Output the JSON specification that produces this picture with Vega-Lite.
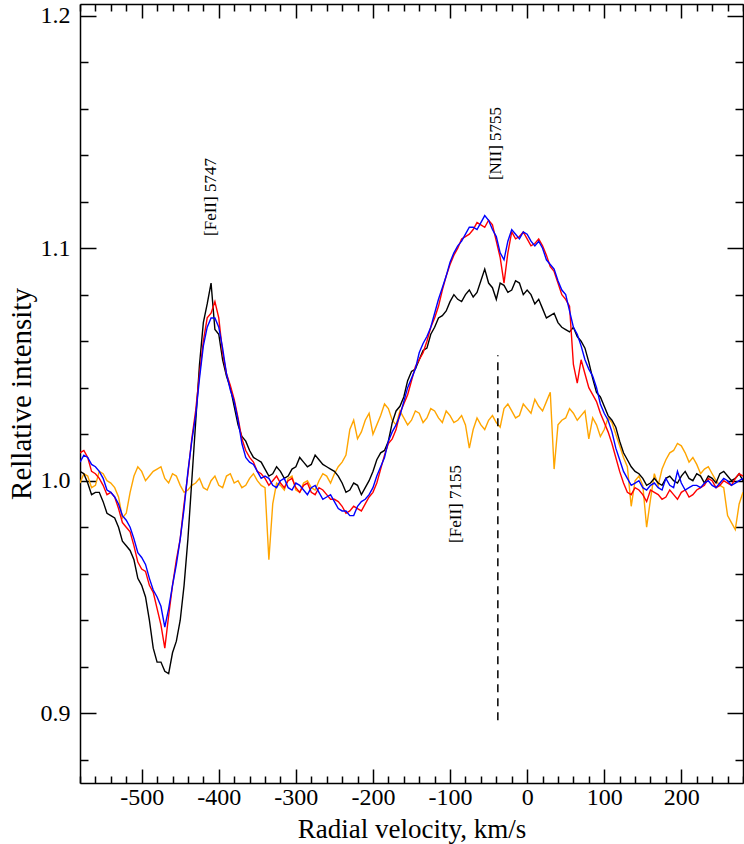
{
  "$schema": "https://vega.github.io/schema/vega-lite/v6.json",
  "autosize": {"type": "none"},
  "padding": {"left": 80, "top": 4, "right": 1, "bottom": 61},
  "width": 663,
  "height": 779,
  "background": "white",
  "config": {
    "view": {"stroke": null},
    "axis": {"labelFont": "Liberation Serif", "titleFont": "Liberation Serif"},
    "text": {"font": "Liberation Serif"}
  },
  "resolve": {"axis": {"x": "independent", "y": "independent"}},
  "layer": [
    {
      "data": {"values": [
        {"v":-580,"k":1.004,"r":1.012,"b":1.008,"o":0.999},
        {"v":-575,"k":1.003,"r":1.013,"b":1.011,"o":1.003},
        {"v":-570,"k":0.999,"r":1.010,"b":1.010,"o":1.002},
        {"v":-565,"k":0.994,"r":1.004,"b":1.007,"o":0.997},
        {"v":-560,"k":0.995,"r":1.003,"b":1.006,"o":0.998},
        {"v":-555,"k":0.995,"r":1.001,"b":1.004,"o":1.004},
        {"v":-550,"k":0.991,"r":0.998,"b":1.001,"o":1.003},
        {"v":-545,"k":0.986,"r":0.994,"b":0.996,"o":1.000},
        {"v":-540,"k":0.985,"r":0.995,"b":0.995,"o":0.999},
        {"v":-535,"k":0.984,"r":0.993,"b":0.993,"o":0.997},
        {"v":-530,"k":0.980,"r":0.988,"b":0.990,"o":0.993},
        {"v":-525,"k":0.974,"r":0.982,"b":0.985,"o":0.984},
        {"v":-520,"k":0.972,"r":0.980,"b":0.983,"o":0.986},
        {"v":-515,"k":0.970,"r":0.978,"b":0.980,"o":0.995},
        {"v":-510,"k":0.966,"r":0.972,"b":0.975,"o":1.002},
        {"v":-505,"k":0.958,"r":0.965,"b":0.969,"o":1.006},
        {"v":-500,"k":0.955,"r":0.962,"b":0.967,"o":1.004},
        {"v":-495,"k":0.950,"r":0.961,"b":0.964,"o":1.000},
        {"v":-490,"k":0.940,"r":0.955,"b":0.958,"o":1.002},
        {"v":-485,"k":0.928,"r":0.952,"b":0.953,"o":1.004},
        {"v":-480,"k":0.922,"r":0.945,"b":0.950,"o":1.005},
        {"v":-475,"k":0.922,"r":0.938,"b":0.946,"o":1.006},
        {"v":-470,"k":0.918,"r":0.928,"b":0.937,"o":1.001},
        {"v":-465,"k":0.917,"r":0.942,"b":0.945,"o":0.999},
        {"v":-460,"k":0.926,"r":0.955,"b":0.955,"o":1.003},
        {"v":-455,"k":0.931,"r":0.966,"b":0.964,"o":1.002},
        {"v":-450,"k":0.940,"r":0.975,"b":0.975,"o":0.998},
        {"v":-445,"k":0.955,"r":0.990,"b":0.988,"o":0.995},
        {"v":-440,"k":0.975,"r":1.003,"b":1.004,"o":0.996},
        {"v":-435,"k":1.000,"r":1.018,"b":1.017,"o":0.998},
        {"v":-430,"k":1.025,"r":1.030,"b":1.028,"o":0.999},
        {"v":-425,"k":1.050,"r":1.046,"b":1.044,"o":1.001},
        {"v":-420,"k":1.068,"r":1.060,"b":1.058,"o":0.997},
        {"v":-415,"k":1.076,"r":1.070,"b":1.066,"o":0.996},
        {"v":-410,"k":1.085,"r":1.072,"b":1.070,"o":1.000},
        {"v":-405,"k":1.065,"r":1.077,"b":1.070,"o":1.002},
        {"v":-400,"k":1.063,"r":1.070,"b":1.066,"o":0.998},
        {"v":-395,"k":1.052,"r":1.055,"b":1.057,"o":0.997},
        {"v":-390,"k":1.045,"r":1.046,"b":1.046,"o":1.002},
        {"v":-385,"k":1.040,"r":1.041,"b":1.039,"o":1.003},
        {"v":-380,"k":1.032,"r":1.035,"b":1.034,"o":0.999},
        {"v":-375,"k":1.024,"r":1.027,"b":1.026,"o":1.000},
        {"v":-370,"k":1.019,"r":1.018,"b":1.016,"o":0.997},
        {"v":-365,"k":1.017,"r":1.013,"b":1.010,"o":0.998},
        {"v":-360,"k":1.013,"r":1.010,"b":1.008,"o":1.001},
        {"v":-355,"k":1.010,"r":1.008,"b":1.007,"o":1.003},
        {"v":-350,"k":1.009,"r":1.004,"b":1.004,"o":1.000},
        {"v":-345,"k":1.008,"r":1.003,"b":1.001,"o":0.998},
        {"v":-340,"k":1.005,"r":1.001,"b":1.002,"o":0.997},
        {"v":-335,"k":1.002,"r":0.998,"b":1.001,"o":0.966},
        {"v":-330,"k":1.003,"r":1.000,"b":0.998,"o":0.990},
        {"v":-325,"k":1.006,"r":1.002,"b":0.997,"o":0.999},
        {"v":-320,"k":1.004,"r":0.999,"b":1.000,"o":0.998},
        {"v":-315,"k":1.001,"r":0.997,"b":1.001,"o":0.996},
        {"v":-310,"k":1.002,"r":1.000,"b":0.997,"o":1.001},
        {"v":-305,"k":1.005,"r":1.001,"b":0.996,"o":1.002},
        {"v":-300,"k":1.006,"r":0.997,"b":0.999,"o":0.996},
        {"v":-295,"k":1.010,"r":0.995,"b":0.998,"o":0.995},
        {"v":-290,"k":1.008,"r":0.998,"b":0.996,"o":0.999},
        {"v":-285,"k":1.006,"r":0.999,"b":0.994,"o":1.000},
        {"v":-280,"k":1.007,"r":0.995,"b":0.997,"o":0.997},
        {"v":-275,"k":1.011,"r":0.994,"b":0.998,"o":0.996},
        {"v":-270,"k":1.009,"r":0.997,"b":0.995,"o":1.000},
        {"v":-265,"k":1.007,"r":0.996,"b":0.992,"o":1.003},
        {"v":-260,"k":1.006,"r":0.994,"b":0.993,"o":1.002},
        {"v":-255,"k":1.005,"r":0.992,"b":0.994,"o":0.999},
        {"v":-250,"k":1.004,"r":0.992,"b":0.991,"o":1.003},
        {"v":-245,"k":1.002,"r":0.991,"b":0.988,"o":1.006},
        {"v":-240,"k":0.999,"r":0.989,"b":0.987,"o":1.008},
        {"v":-235,"k":0.995,"r":0.986,"b":0.987,"o":1.011},
        {"v":-230,"k":0.996,"r":0.987,"b":0.985,"o":1.022},
        {"v":-225,"k":0.999,"r":0.989,"b":0.985,"o":1.026},
        {"v":-220,"k":0.998,"r":0.988,"b":0.989,"o":1.018},
        {"v":-215,"k":0.994,"r":0.987,"b":0.991,"o":1.021},
        {"v":-210,"k":0.997,"r":0.990,"b":0.992,"o":1.026},
        {"v":-205,"k":1.000,"r":0.993,"b":0.994,"o":1.029},
        {"v":-200,"k":1.004,"r":0.995,"b":0.997,"o":1.020},
        {"v":-195,"k":1.009,"r":0.999,"b":1.002,"o":1.024},
        {"v":-190,"k":1.012,"r":1.005,"b":1.006,"o":1.028},
        {"v":-185,"k":1.013,"r":1.011,"b":1.010,"o":1.033},
        {"v":-180,"k":1.017,"r":1.016,"b":1.017,"o":1.031},
        {"v":-175,"k":1.025,"r":1.018,"b":1.021,"o":1.026},
        {"v":-170,"k":1.030,"r":1.022,"b":1.024,"o":1.024},
        {"v":-165,"k":1.032,"r":1.029,"b":1.028,"o":1.030},
        {"v":-160,"k":1.036,"r":1.033,"b":1.034,"o":1.027},
        {"v":-155,"k":1.043,"r":1.037,"b":1.040,"o":1.024},
        {"v":-150,"k":1.047,"r":1.043,"b":1.044,"o":1.026},
        {"v":-145,"k":1.048,"r":1.049,"b":1.048,"o":1.030},
        {"v":-140,"k":1.052,"r":1.052,"b":1.055,"o":1.029},
        {"v":-135,"k":1.056,"r":1.055,"b":1.059,"o":1.025},
        {"v":-130,"k":1.057,"r":1.060,"b":1.062,"o":1.027},
        {"v":-125,"k":1.063,"r":1.066,"b":1.066,"o":1.031},
        {"v":-120,"k":1.066,"r":1.070,"b":1.072,"o":1.030},
        {"v":-115,"k":1.070,"r":1.075,"b":1.078,"o":1.027},
        {"v":-110,"k":1.071,"r":1.082,"b":1.083,"o":1.025},
        {"v":-105,"k":1.073,"r":1.088,"b":1.088,"o":1.030},
        {"v":-100,"k":1.077,"r":1.093,"b":1.094,"o":1.028},
        {"v":-95,"k":1.080,"r":1.097,"b":1.098,"o":1.025},
        {"v":-90,"k":1.078,"r":1.100,"b":1.101,"o":1.026},
        {"v":-85,"k":1.077,"r":1.104,"b":1.103,"o":1.028},
        {"v":-80,"k":1.080,"r":1.105,"b":1.106,"o":1.024},
        {"v":-75,"k":1.082,"r":1.106,"b":1.109,"o":1.014},
        {"v":-70,"k":1.079,"r":1.108,"b":1.109,"o":1.022},
        {"v":-65,"k":1.081,"r":1.111,"b":1.108,"o":1.027},
        {"v":-60,"k":1.086,"r":1.110,"b":1.111,"o":1.024},
        {"v":-55,"k":1.091,"r":1.109,"b":1.114,"o":1.022},
        {"v":-50,"k":1.085,"r":1.112,"b":1.112,"o":1.026},
        {"v":-45,"k":1.083,"r":1.110,"b":1.108,"o":1.028},
        {"v":-40,"k":1.078,"r":1.103,"b":1.105,"o":1.025},
        {"v":-35,"k":1.085,"r":1.096,"b":1.098,"o":1.023},
        {"v":-30,"k":1.084,"r":1.085,"b":1.095,"o":1.031},
        {"v":-25,"k":1.081,"r":1.098,"b":1.103,"o":1.033},
        {"v":-20,"k":1.082,"r":1.107,"b":1.108,"o":1.030},
        {"v":-15,"k":1.086,"r":1.104,"b":1.106,"o":1.027},
        {"v":-10,"k":1.085,"r":1.105,"b":1.104,"o":1.028},
        {"v":-5,"k":1.080,"r":1.107,"b":1.107,"o":1.033},
        {"v":0,"k":1.082,"r":1.104,"b":1.106,"o":1.031},
        {"v":5,"k":1.080,"r":1.101,"b":1.103,"o":1.029},
        {"v":10,"k":1.076,"r":1.102,"b":1.101,"o":1.035},
        {"v":15,"k":1.078,"r":1.104,"b":1.103,"o":1.032},
        {"v":20,"k":1.074,"r":1.101,"b":1.100,"o":1.030},
        {"v":25,"k":1.070,"r":1.097,"b":1.095,"o":1.034},
        {"v":30,"k":1.071,"r":1.092,"b":1.093,"o":1.038},
        {"v":35,"k":1.072,"r":1.090,"b":1.091,"o":1.005},
        {"v":40,"k":1.068,"r":1.085,"b":1.086,"o":1.024},
        {"v":45,"k":1.066,"r":1.080,"b":1.082,"o":1.026},
        {"v":50,"k":1.065,"r":1.078,"b":1.080,"o":1.027},
        {"v":55,"k":1.064,"r":1.075,"b":1.073,"o":1.031},
        {"v":60,"k":1.066,"r":1.050,"b":1.066,"o":1.029},
        {"v":65,"k":1.062,"r":1.042,"b":1.063,"o":1.026},
        {"v":70,"k":1.060,"r":1.052,"b":1.058,"o":1.028},
        {"v":75,"k":1.057,"r":1.046,"b":1.052,"o":1.030},
        {"v":80,"k":1.051,"r":1.040,"b":1.048,"o":1.018},
        {"v":85,"k":1.044,"r":1.037,"b":1.045,"o":1.027},
        {"v":90,"k":1.038,"r":1.034,"b":1.040,"o":1.024},
        {"v":95,"k":1.036,"r":1.029,"b":1.033,"o":1.019},
        {"v":100,"k":1.032,"r":1.025,"b":1.029,"o":1.022},
        {"v":105,"k":1.028,"r":1.021,"b":1.026,"o":1.027},
        {"v":110,"k":1.026,"r":1.016,"b":1.021,"o":1.025},
        {"v":115,"k":1.023,"r":1.010,"b":1.014,"o":1.020},
        {"v":120,"k":1.017,"r":1.004,"b":1.009,"o":1.015},
        {"v":125,"k":1.012,"r":0.999,"b":1.004,"o":1.010},
        {"v":130,"k":1.009,"r":0.995,"b":1.001,"o":1.006},
        {"v":135,"k":1.006,"r":0.994,"b":0.998,"o":0.989},
        {"v":140,"k":1.004,"r":0.997,"b":0.999,"o":1.000},
        {"v":145,"k":1.003,"r":0.996,"b":1.000,"o":1.002},
        {"v":150,"k":1.001,"r":0.994,"b":0.997,"o":0.998},
        {"v":155,"k":0.998,"r":0.991,"b":0.996,"o":0.980},
        {"v":160,"k":0.999,"r":0.996,"b":0.998,"o":0.992},
        {"v":165,"k":1.001,"r":0.995,"b":0.999,"o":1.003},
        {"v":170,"k":0.999,"r":0.994,"b":0.997,"o":0.998},
        {"v":175,"k":0.998,"r":0.992,"b":0.996,"o":1.005},
        {"v":180,"k":1.001,"r":0.993,"b":1.001,"o":1.009},
        {"v":185,"k":1.002,"r":0.996,"b":0.998,"o":1.012},
        {"v":190,"k":1.000,"r":0.994,"b":0.997,"o":1.013},
        {"v":195,"k":0.999,"r":0.992,"b":1.004,"o":1.016},
        {"v":200,"k":1.002,"r":0.995,"b":0.999,"o":1.015},
        {"v":205,"k":1.004,"r":0.996,"b":0.996,"o":1.012},
        {"v":210,"k":1.001,"r":0.993,"b":0.997,"o":1.008},
        {"v":215,"k":1.000,"r":0.994,"b":0.998,"o":1.010},
        {"v":220,"k":1.003,"r":0.996,"b":0.998,"o":1.007},
        {"v":225,"k":1.002,"r":0.997,"b":0.997,"o":1.003},
        {"v":230,"k":0.999,"r":0.998,"b":0.999,"o":1.005},
        {"v":235,"k":1.002,"r":1.001,"b":1.000,"o":1.006},
        {"v":240,"k":1.001,"r":1.000,"b":0.998,"o":1.003},
        {"v":245,"k":0.999,"r":0.997,"b":0.997,"o":1.000},
        {"v":250,"k":1.003,"r":0.998,"b":0.999,"o":0.998},
        {"v":255,"k":1.004,"r":1.000,"b":1.001,"o":0.997},
        {"v":260,"k":1.002,"r":0.999,"b":1.000,"o":0.985},
        {"v":265,"k":1.000,"r":0.998,"b":0.998,"o":0.982},
        {"v":270,"k":1.001,"r":1.001,"b":0.999,"o":0.979},
        {"v":275,"k":1.003,"r":1.003,"b":1.000,"o":0.990},
        {"v":280,"k":1.000,"r":1.002,"b":1.001,"o":0.995}
      ]},
      "transform": [{"fold": ["o", "k", "r", "b"], "as": ["s", "y"]}],
      "mark": {"type": "line", "strokeWidth": 1.4, "clip": true},
      "encoding": {
        "x": {"field": "v", "type": "quantitative",
          "scale": {"domain": [-580, 280], "nice": false, "zero": false},
          "axis": {"orient": "bottom", "labels": false, "title": null, "grid": false,
            "values": [-580,-560,-540,-520,-500,-480,-460,-440,-420,-400,-380,-360,-340,-320,-300,-280,-260,-240,-220,-200,-180,-160,-140,-120,-100,-80,-60,-40,-20,0,20,40,60,80,100,120,140,160,180,200,220,240,260,280],
            "domainColor": "black", "domainWidth": 1.5, "tickColor": "black", "tickWidth": 1.5,
            "tickSize": {"condition": {"test": "datum.value % 100 === 0", "value": -14}, "value": -7}}},
        "y": {"field": "y", "type": "quantitative",
          "scale": {"domain": [0.87, 1.205], "nice": false, "zero": false},
          "axis": {"orient": "left", "labels": false, "title": null, "grid": false,
            "values": [0.88,0.9,0.92,0.94,0.96,0.98,1.0,1.02,1.04,1.06,1.08,1.1,1.12,1.14,1.16,1.18,1.2],
            "domainColor": "black", "domainWidth": 1.5, "tickColor": "black", "tickWidth": 1.5,
            "tickSize": {"condition": {"test": "round(datum.value * 50) % 5 === 0", "value": -16}, "value": -8}}},
        "color": {"field": "s", "type": "nominal",
          "scale": {"domain": ["o", "k", "r", "b"], "range": ["#ffa500", "#000000", "#ff0000", "#0000ff"]},
          "legend": null}
      }
    },
    {
      "data": {"values": [{"x": -38, "y1": 0.897, "y2": 1.054}]},
      "mark": {"type": "rule", "color": "black", "strokeWidth": 1.5, "strokeDash": [8, 6]},
      "encoding": {
        "x": {"field": "x", "type": "quantitative",
          "scale": {"domain": [-580, 280], "nice": false, "zero": false},
          "axis": {"orient": "bottom", "ticks": false, "domain": false, "grid": false,
            "values": [-500,-400,-300,-200,-100,0,100,200],
            "labelExpr": "datum.value < 0 ? '-' + abs(datum.value) : '' + datum.value",
            "labelFont": "Liberation Serif", "labelFontSize": 24, "labelColor": "black", "labelPadding": 2,
            "title": "Radial velocity, km/s", "titleFont": "Liberation Serif", "titleFontSize": 27,
            "titleFontWeight": "normal", "titleColor": "black", "titlePadding": 7}},
        "y": {"field": "y1", "type": "quantitative",
          "scale": {"domain": [0.87, 1.205], "nice": false, "zero": false},
          "axis": {"orient": "left", "ticks": false, "domain": false, "grid": false,
            "values": [0.9, 1.0, 1.1, 1.2], "format": ".1f",
            "labelFont": "Liberation Serif", "labelFontSize": 24, "labelColor": "black", "labelPadding": 10,
            "title": "Rellative intensity", "titleFont": "Liberation Serif", "titleFontSize": 29,
            "titleFontWeight": "normal", "titleColor": "black", "titlePadding": 4}},
        "y2": {"field": "y2"}
      }
    },
    {
      "data": {"values": [
        {"x": -410, "y": 1.122, "t": "[FeII] 5747"},
        {"x": -40, "y": 1.145, "t": "[NII] 5755"},
        {"x": -92, "y": 0.990, "t": "[FeII] 7155"}
      ]},
      "mark": {"type": "text", "angle": 270, "fontSize": 17, "font": "Liberation Serif", "color": "black", "align": "center", "baseline": "middle"},
      "encoding": {
        "x": {"field": "x", "type": "quantitative",
          "scale": {"domain": [-580, 280], "nice": false, "zero": false},
          "axis": {"orient": "top", "labels": false, "title": null, "grid": false,
            "values": [-580,-560,-540,-520,-500,-480,-460,-440,-420,-400,-380,-360,-340,-320,-300,-280,-260,-240,-220,-200,-180,-160,-140,-120,-100,-80,-60,-40,-20,0,20,40,60,80,100,120,140,160,180,200,220,240,260,280],
            "domainColor": "black", "domainWidth": 1.5, "tickColor": "black", "tickWidth": 1.5,
            "tickSize": {"condition": {"test": "datum.value % 100 === 0", "value": -14}, "value": -7}}},
        "y": {"field": "y", "type": "quantitative",
          "scale": {"domain": [0.87, 1.205], "nice": false, "zero": false},
          "axis": {"orient": "right", "labels": false, "title": null, "grid": false,
            "values": [0.88,0.9,0.92,0.94,0.96,0.98,1.0,1.02,1.04,1.06,1.08,1.1,1.12,1.14,1.16,1.18,1.2],
            "domainColor": "black", "domainWidth": 1.5, "tickColor": "black", "tickWidth": 1.5,
            "tickSize": {"condition": {"test": "round(datum.value * 50) % 5 === 0", "value": -16}, "value": -8}}},
        "text": {"field": "t", "type": "nominal"}
      }
    }
  ]
}
